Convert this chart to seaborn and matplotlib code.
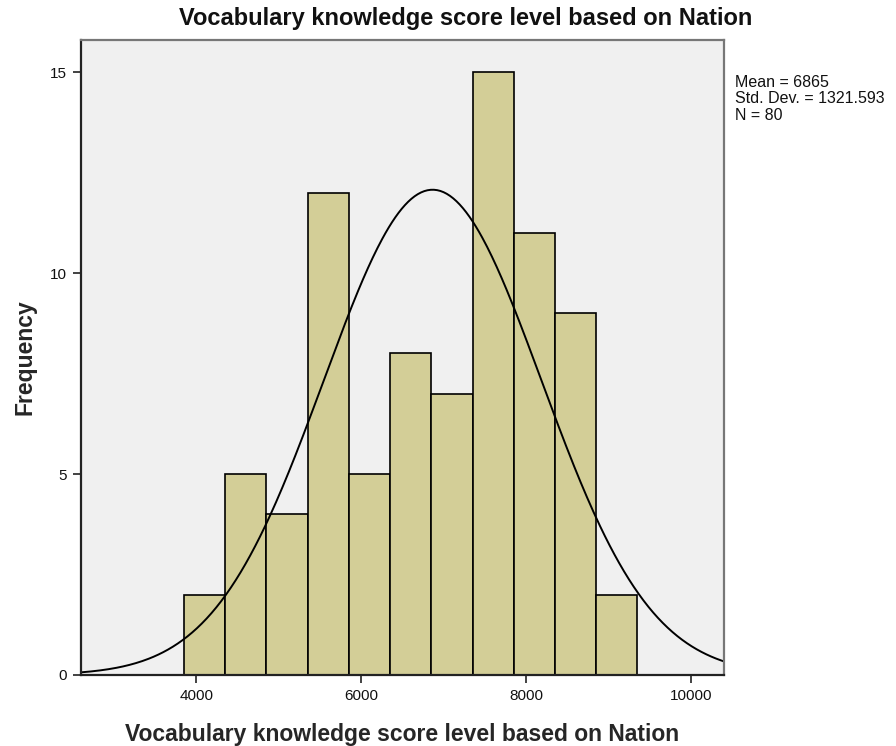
import numpy as np
import pandas as pd
import matplotlib
matplotlib.use("Agg")
import matplotlib.pyplot as plt
import seaborn as sns

# histogram bins (SPSS style, width 500) and their frequencies
bin_edges = [3850, 4350, 4850, 5350, 5850, 6350, 6850, 7350, 7850, 8350, 8850, 9350]
counts = [2, 5, 4, 12, 5, 8, 7, 15, 11, 9, 2]

mean = 6865
std = 1321.593
n = 80

x_ticks = [4000, 6000, 8000, 10000]
y_ticks = [0, 5, 10, 15]
title = "Vocabulary knowledge score level based on Nation"

sns.set_theme(style="white")
plt.rcParams["font.family"] = ["Liberation Sans", "DejaVu Sans"]

centers = [(a + b) / 2 for a, b in zip(bin_edges[:-1], bin_edges[1:])]
df = pd.DataFrame({"score": centers, "freq": counts})

fig = plt.figure(figsize=(8.96, 7.46), dpi=100)
ax = fig.add_axes([81 / 896, 1 - 675 / 746, (724 - 81) / 896, (675 - 40) / 746])
ax.set_facecolor("#F0F0F0")

sns.histplot(data=df, x="score", weights="freq", bins=bin_edges, stat="count",
             color="#D3CE97", edgecolor="black", linewidth=1.2, alpha=1, ax=ax)

# normal curve scaled to frequency
bw = bin_edges[1] - bin_edges[0]
xs = np.linspace(2600, 10400, 400)
ys = n * bw * np.exp(-0.5 * ((xs - mean) / std) ** 2) / (std * np.sqrt(2 * np.pi))
sns.lineplot(x=xs, y=ys, color="black", linewidth=1.4, ax=ax)

ax.set_xlim(2600, 10400)
ax.set_ylim(0, 15.8)
ax.set_xticks(x_ticks)
ax.set_yticks(y_ticks)
ax.tick_params(axis="both", direction="out", length=6, width=1.2, color="#222222",
               labelsize=11, labelcolor="#111111", bottom=True, left=True, pad=4)

for side in ["left", "bottom"]:
    ax.spines[side].set_color("#222222")
    ax.spines[side].set_linewidth(1.6)
for side in ["top", "right"]:
    ax.spines[side].set_color("#777777")
    ax.spines[side].set_linewidth(1.6)

ax.set_xlabel(title, fontsize=16.5, fontweight="bold", va="center")
ax.xaxis.set_label_coords(0.5, (675 - 735) / 635)
ax.set_ylabel("Frequency", fontsize=16.5, fontweight="bold", va="center")
ax.yaxis.set_label_coords((25 - 81) / 643, 0.5)

fig.text(466 / 896, 1 - 18 / 746, title, fontsize=17, fontweight="bold",
         ha="center", va="center", color="#111111")

fig.text(735 / 896, 1 - 75 / 746,
         f"Mean = {mean}\nStd. Dev. = {std:.3f}\nN = {n}",
         fontsize=11.5, va="top", ha="left", linespacing=1.12, color="#111111")

fig.savefig("out.png", dpi=100)
